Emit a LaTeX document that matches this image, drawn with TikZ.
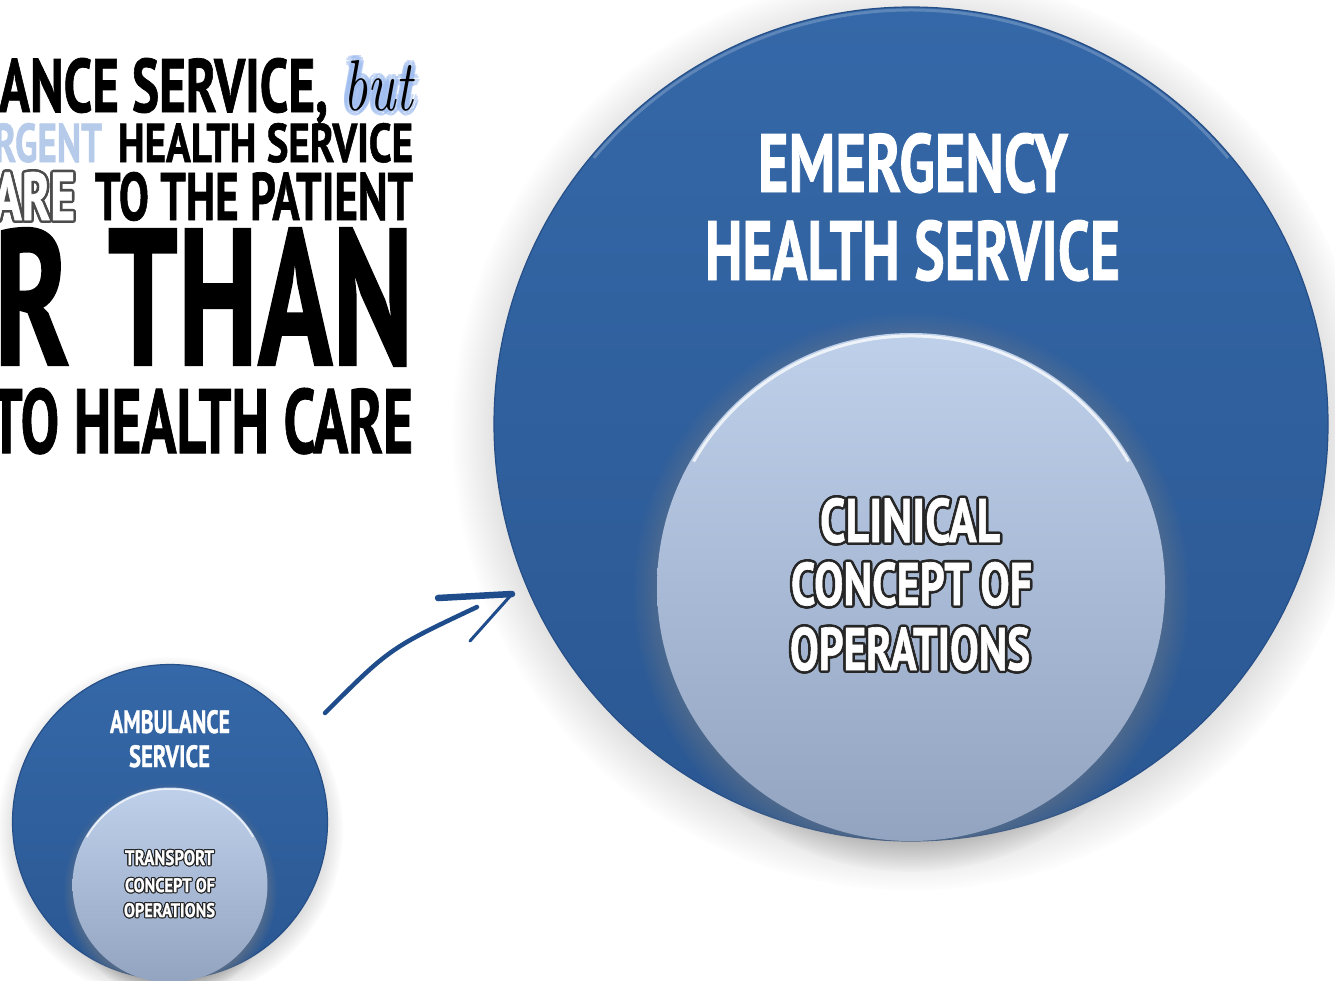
\documentclass[tikz,border=0pt]{standalone}
\usepackage{fontspec}
\usepackage{graphicx}
\usetikzlibrary{shadows,calc}
\newfontfamily\din{PT Sans}[BoldFeatures={FakeBold=1.1}]
\definecolor{outerA}{HTML}{3568A8}
\definecolor{outerB}{HTML}{2A5792}
\definecolor{outerEdge}{HTML}{264F88}
\definecolor{innerA}{HTML}{BED0EA}
\definecolor{innerB}{HTML}{92A4C0}
\definecolor{lightword}{HTML}{B6CBEA}
\definecolor{butglow}{HTML}{9FBDF0}
\definecolor{arrowblue}{HTML}{1F4C8A}
\newcommand\fitt[3]{\resizebox{#1pt}{#2pt}{\din\bfseries #3}}
% #1 name #2 x #3 baseline y #4 width #5 height #6 text colour #7 glow colour #8 glow radius #9 text
\newcommand\glowtxt[9]{%
  \foreach \ang in {0,30,...,330}{%
    \node[txt, text=#7, xshift={#8*cos(\ang)*1pt}, yshift={#8*sin(\ang)*1pt}] at (#2,#3) {\fitt{#4}{#5}{#9}};}
  \node[txt, text=#6] (#1) at (#2,#3) {\fitt{#4}{#5}{#9}};}
\newcommand\plaintxt[7]{%
  \node[txt, text=#6] (#1) at (#2,#3) {\fitt{#4}{#5}{#7}};}
\tikzset{
  txt/.style={anchor=base west, inner sep=0pt, outer sep=0pt},
  disc/.style={circle, inner sep=0pt, draw=none},
  outerdisc/.style={disc, top color=outerA, bottom color=outerB, draw=outerEdge, line width=1.2pt,
     circular drop shadow={shadow xshift=0pt, shadow yshift=-7pt, opacity=0.35}},
  innerdisc/.style={disc, top color=innerA, bottom color=innerB,
     circular drop shadow={shadow xshift=0pt, shadow yshift=-5pt, opacity=0.55}},
  bevel/.style={white, opacity=0.75, line width=#1},
  pen/.style={arrowblue, line cap=round, line join=round}
}
\begin{document}
\begin{tikzpicture}[x=1pt,y=-1pt]
\useasboundingbox (0,0) rectangle (1335,980);
\fill[white] (0,0) rectangle (1335,980);
\clip (0,0) rectangle (1335,980);

% ---------- big target ----------
\node[outerdisc, minimum size=834pt] (big) at (911,424) {};
\draw[outerA!60!white, opacity=0.5, line width=3pt] ([shift={(-140:414)}]big.center) arc[start angle=-140, end angle=-40, radius=414];
\node[innerdisc, minimum size=508pt] (bigin) at (911,587) {};
\draw[bevel=3pt] ([shift={(-150:251)}]bigin.center) arc[start angle=-150, end angle=-30, radius=251];

% ---------- small target ----------
\node[outerdisc, minimum size=315pt] (small) at (170,822) {};
\node[innerdisc, minimum size=195pt] (smallin) at (170,885) {};
\draw[bevel=1.5pt] ([shift={(-150:96)}]smallin.center) arc[start angle=-150, end angle=-30, radius=96];

% ---------- left statement ----------
\plaintxt{l1a}{-1}{112}{329}{54}{black}{ANCE SERVICE,}
\foreach \ang in {0,30,...,330}{%
  \node[txt, text=butglow, opacity=0.55, xshift={5*cos(\ang)*1pt}, yshift={5*sin(\ang)*1pt}] at (343,110) {\resizebox{70pt}{50pt}{\itshape but}};}
\node[txt] (l1b) at (343,110) {\resizebox{70pt}{50pt}{\itshape but}};
\plaintxt{l2a}{-6}{162}{108}{39}{lightword}{RGENT}
\plaintxt{l2b}{118}{162}{295}{39}{black}{HEALTH SERVICE}
\glowtxt{l3a}{-7}{220}{82}{48}{white}{black!70}{2.6}{ARE}
\plaintxt{l3b}{95}{220}{318}{48}{black}{TO THE PATIENT}
\plaintxt{l4a}{-6}{365}{76}{137}{black}{R}
\plaintxt{l4b}{108}{365}{305}{137}{black}{THAN}
\plaintxt{l5}{-10}{453}{423}{65}{black}{TO HEALTH CARE}

% ---------- labels ----------
\plaintxt{emg}{758}{192}{310}{59}{white}{EMERGENCY}
\plaintxt{ehs}{705}{280}{415}{60}{white}{HEALTH SERVICE}
\glowtxt{cl1}{820}{542}{180}{44}{white}{black!85}{2.6}{CLINICAL}
\glowtxt{cl2}{791}{605}{241}{43}{white}{black!85}{2.6}{CONCEPT OF}
\glowtxt{cl3}{790}{670}{240}{43}{white}{black!85}{2.6}{OPERATIONS}

\plaintxt{amb}{110}{733}{120}{23}{white}{AMBULANCE}
\plaintxt{ams}{129}{767}{81}{22}{white}{SERVICE}
\glowtxt{tr1}{125}{865}{89}{15}{white}{black!85}{1.1}{TRANSPORT}
\glowtxt{tr2}{125}{892}{90}{14}{white}{black!85}{1.1}{CONCEPT OF}
\glowtxt{tr3}{124}{917}{91}{14}{white}{black!85}{1.1}{OPERATIONS}

% ---------- hand-drawn arrow ----------
\coordinate (atail) at (325,713);
\coordinate (ashaft) at (477,607);
\coordinate (atip) at (512,594);
\coordinate (abarbA) at (438,598);
\coordinate (abarbB) at (470,641);
\draw[pen, line width=4.5pt] (atail) .. controls (390,648) .. (ashaft);
\draw[pen, line width=6.5pt] (abarbA) -- (atip);
\draw[pen, line width=3pt] (atip) -- (abarbB);
\end{tikzpicture}
\end{document}
